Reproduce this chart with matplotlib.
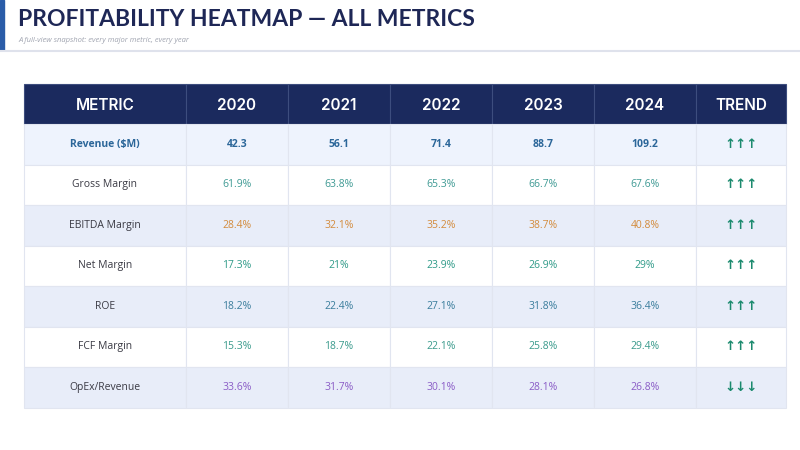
import matplotlib
matplotlib.use("Agg")
import matplotlib.pyplot as plt
from matplotlib.patches import Rectangle

years = ["2020", "2021", "2022", "2023", "2024"]
metrics = ["Revenue ($M)", "Gross Margin", "EBITDA Margin", "Net Margin",
           "ROE", "FCF Margin", "OpEx/Revenue"]
revenue = [42.3, 56.1, 71.4, 88.7, 109.2]
gross_margin = [61.9, 63.8, 65.3, 66.7, 67.6]
ebitda_margin = [28.4, 32.1, 35.2, 38.7, 40.8]
net_margin = [17.3, 21, 23.9, 26.9, 29]
roe = [18.2, 22.4, 27.1, 31.8, 36.4]
fcf_margin = [15.3, 18.7, 22.1, 25.8, 29.4]
opex_revenue = [33.6, 31.7, 30.1, 28.1, 26.8]
trends = ["↑↑↑", "↑↑↑", "↑↑↑", "↑↑↑", "↑↑↑", "↑↑↑", "↓↓↓"]

rows = [revenue, gross_margin, ebitda_margin, net_margin, roe, fcf_margin, opex_revenue]
text_colors = ["#2b6699", "#3f9a94", "#d38b3c", "#2f9a88", "#3a7d9c", "#3a9a8c", "#8a5cc6"]
row_bg = ["#eef3fd", "#ffffff", "#e8edf9", "#ffffff", "#e8edf9", "#ffffff", "#e8edf9"]

def fmt(v, pct):
    s = ("%.1f" % v).rstrip("0").rstrip(".") if pct else "%.1f" % v
    return s + "%" if pct else s

fig = plt.figure(figsize=(8, 4.5), dpi=100)
ax = fig.add_axes([0, 0, 1, 1])
ax.set_xlim(0, 800)
ax.set_ylim(450, 0)
ax.axis("off")

# header band
ax.add_patch(Rectangle((0, 0), 4, 50, color="#2a5ca8"))
ax.plot([0, 800], [50.5, 50.5], color="#dfe2ec", lw=1.5)
ax.text(18, 19, "PROFITABILITY HEATMAP — ALL METRICS", fontsize=16.5, fontweight="bold",
        color="#1e2756", va="center", ha="left", family="Lato")
ax.text(18, 41, "A full-view snapshot: every major metric, every year", fontsize=5.5,
        style="italic", color="#a0a4b0", va="center", ha="left", family="Open Sans")

# table geometry
left, top = 24, 84
head_h, row_h = 40, 40.5
col_w = [162] + [102] * len(years) + [90]
col_x = [left]
for w in col_w:
    col_x.append(col_x[-1] + w)
headers = ["METRIC"] + years + ["TREND"]

for j, h in enumerate(headers):
    ax.add_patch(Rectangle((col_x[j], top), col_w[j], head_h, facecolor="#1b2a5e",
                           edgecolor="#3d4d7e", lw=0.8))
    ax.text(col_x[j] + col_w[j] / 2, top + head_h / 2 + 1, h, color="white", fontsize=11,
            ha="center", va="center", family="Inter", fontweight="semibold")

for i, m in enumerate(metrics):
    y0 = top + head_h + i * row_h
    yc = y0 + row_h / 2
    for j in range(len(headers)):
        ax.add_patch(Rectangle((col_x[j], y0), col_w[j], row_h, facecolor=row_bg[i],
                               edgecolor="#e1e5f0", lw=0.8))
    first = i == 0
    ax.text(col_x[0] + col_w[0] / 2, yc, m, fontsize=7.5, ha="center", va="center",
            color="#2b6699" if first else "#3a3a44",
            fontweight="bold" if first else "normal", family="Open Sans")
    for k, v in enumerate(rows[i]):
        ax.text(col_x[k + 1] + col_w[k + 1] / 2, yc, fmt(v, not first), fontsize=7.5,
                ha="center", va="center", color=text_colors[i],
                fontweight="bold" if first else "normal", family="Open Sans")
    ax.text(col_x[-2] + col_w[-1] / 2, yc, trends[i], fontsize=9.5, ha="center", va="center",
            color="#1b8a6e", fontweight="bold", family="DejaVu Sans")

fig.savefig("out.png", dpi=100)
